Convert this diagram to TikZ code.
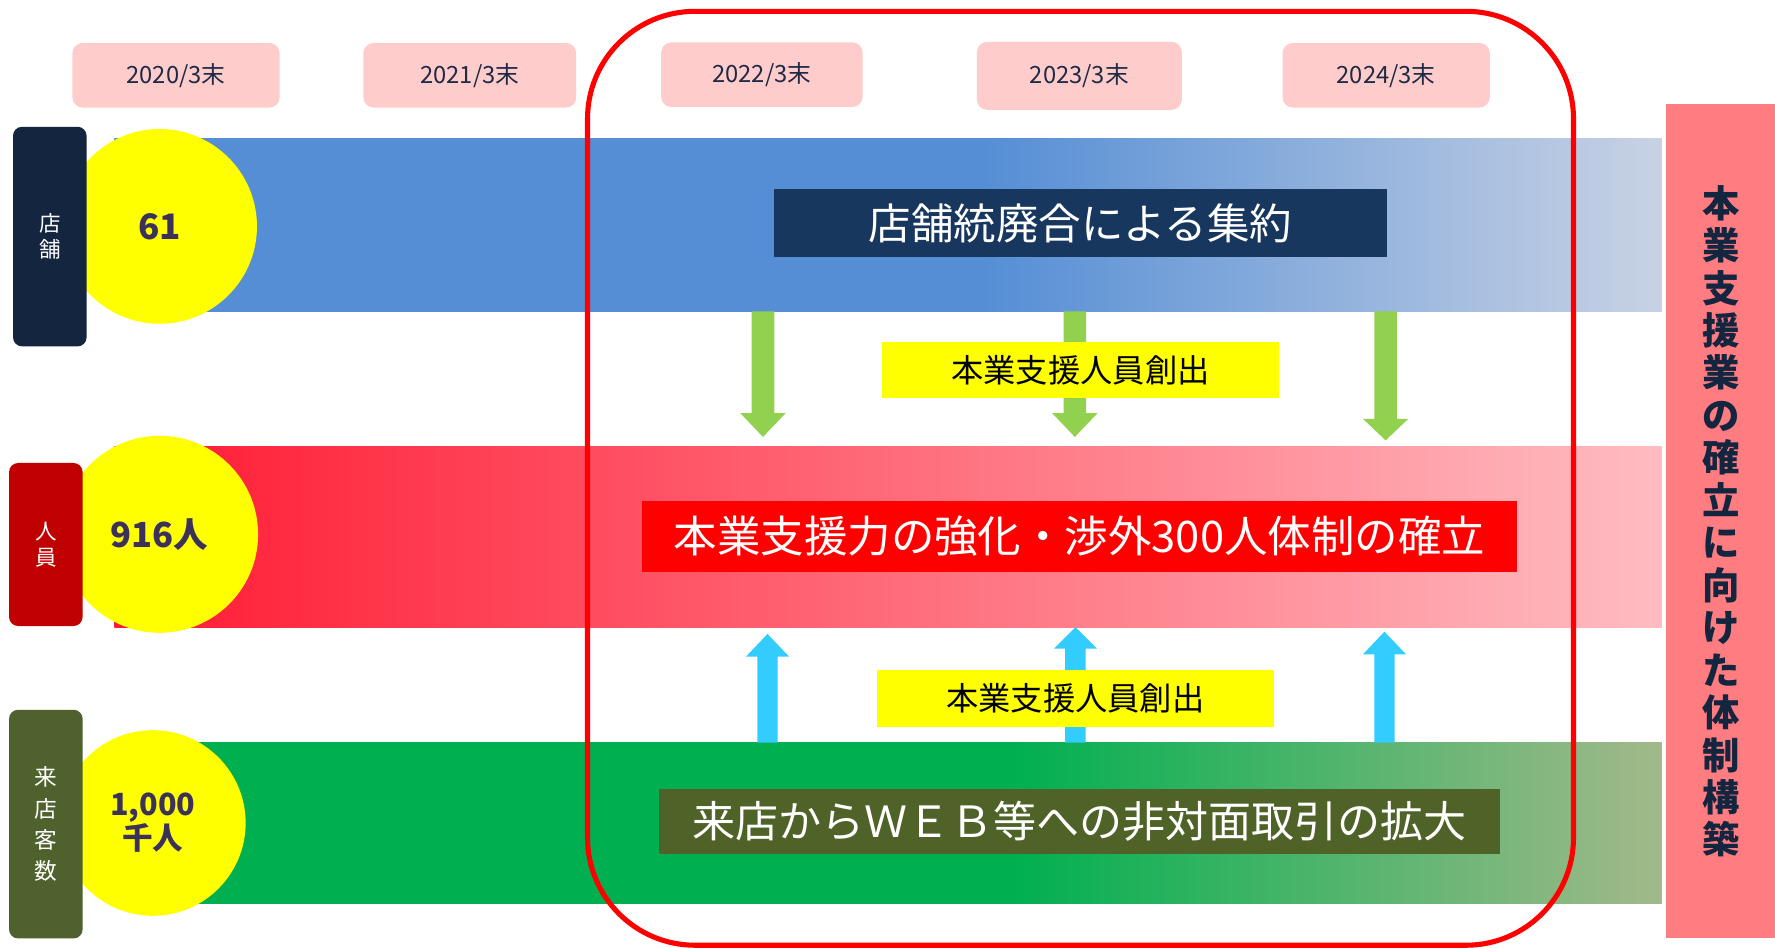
\documentclass[tikz,border=0pt]{standalone}
\usepackage{fontspec}
\setmainfont{Noto Sans CJK JP}
\definecolor{pureyellow}{RGB}{255,255,0}
\definecolor{purered}{RGB}{255,0,0}
\definecolor{yearpink}{HTML}{FFCCCC}
\definecolor{yeartext}{HTML}{1F2A44}
\definecolor{navylbl}{HTML}{14253F}
\definecolor{redlbl}{HTML}{C00000}
\definecolor{olivelbl}{HTML}{4F622E}
\definecolor{bluebar}{HTML}{558ED5}
\definecolor{bluefade}{HTML}{C8D2E4}
\definecolor{redL}{HTML}{FF1A33}
\definecolor{redR}{HTML}{FFBCC1}
\definecolor{greenbar}{HTML}{00B050}
\definecolor{greenfade}{HTML}{A2B98A}
\definecolor{garrow}{HTML}{92D050}
\definecolor{barrow}{HTML}{33CCFF}
\definecolor{titlenavy}{HTML}{17375E}
\definecolor{titleolive}{HTML}{4F6228}
\definecolor{circtext}{HTML}{3C3259}
\definecolor{rightbox}{HTML}{FF7C80}
\pgfdeclarehorizontalshading{bluegrad}{100bp}{color(0bp)=(bluebar); color(53bp)=(bluebar); color(75bp)=(bluefade); color(100bp)=(bluefade)}
\pgfdeclarehorizontalshading{greengrad}{100bp}{color(0bp)=(greenbar); color(54bp)=(greenbar); color(75bp)=(greenfade); color(100bp)=(greenfade)}
\newcommand\fs[2]{\fontsize{#1}{#2}\selectfont}
\newcommand\blockdown[5]{\fill[#5] (#1-10,#2) -- (#1+10,#2) -- (#1+10,#3) -- (#1+20,#3) -- (#1,#4) -- (#1-20,#3) -- (#1-10,#3) -- cycle;}
\newcommand\blockup[5]{\fill[#5] (#1-9,#2) -- (#1+9,#2) -- (#1+9,#3) -- (#1+19,#3) -- (#1,#4) -- (#1-19,#3) -- (#1-9,#3) -- cycle;}
\tikzset{
  yearbox/.style={fill=yearpink, rounded corners=9pt, inner sep=0pt, minimum height=57pt, text=yeartext, font=\fs{21}{24}},
  sidelbl/.style={rounded corners=8pt, inner sep=0pt, minimum width=65pt, text=white, align=center},
  valcirc/.style={circle, fill=pureyellow, inner sep=0pt, text=circtext, align=center, font=\bfseries},
  titlebox/.style={inner sep=0pt, text=white},
  yellowlbl/.style={fill=pureyellow, inner sep=0pt, minimum width=351pt, minimum height=50pt, font=\fs{28.5}{30}}
}
\begin{document}
\begin{tikzpicture}[x=1pt,y=-1pt]
\useasboundingbox[fill=white] (0,0) rectangle (1568,837);
% year boxes
\node[yearbox, minimum width=183pt] (y2020) at (155.5,66.5) {2020/3末};
\node[yearbox, minimum width=188pt] (y2021) at (415,66.5) {2021/3末};
\node[yearbox, minimum width=178pt] (y2022) at (673,66) {2022/3末};
\node[yearbox, minimum width=181pt, minimum height=60pt] (y2023) at (953.5,67) {2023/3末};
\node[yearbox, minimum width=183pt] (y2024) at (1224.5,66.5) {2024/3末};
% bars
\shade[shading=bluegrad] (101,122) rectangle (1468,275);
\shade[left color=redL, right color=redR] (101,394) rectangle (1468,554);
\shade[shading=greengrad] (101,656) rectangle (1468,798);
% arrows
\blockdown{674}{275}{365}{386}{garrow}
\blockdown{949.5}{275}{365}{386}{garrow}
\blockdown{1224}{275}{370}{389}{garrow}
\blockup{678}{656}{580}{560}{barrow}
\blockup{950}{656}{573}{554}{barrow}
\blockup{1223}{656}{578}{558}{barrow}
% titles
\node[titlebox, fill=titlenavy, minimum width=541pt, minimum height=60pt, font=\fs{37.5}{40}] (t1) at (954.5,197) {店舗統廃合による集約};
\node[titlebox, fill=purered, minimum width=773pt, minimum height=62pt, font=\fs{38.4}{42}] (t2) at (953.5,474) {本業支援力の強化・渉外300人体制の確立};
\node[titlebox, fill=titleolive, minimum width=743pt, minimum height=57pt, font=\fs{38}{42}] (t3) at (953.5,725.5) {来店からＷＥＢ等への非対面取引の拡大};
% yellow labels
\node[yellowlbl] (s1) at (954.5,327) {本業支援人員創出};
\node[yellowlbl] (s2) at (950,617) {本業支援人員創出};
% circles
\node[valcirc, minimum size=172pt, font=\bfseries\fs{31}{34}] (c1) at (141,200) {61};
\node[valcirc, minimum size=174pt, font=\bfseries\fs{30.5}{34}] (c2) at (141,472) {916人};
\node[valcirc, minimum size=164pt, font=\bfseries\fs{27}{30}] (c3) at (135,727) {1,000\\千人};
% side labels
\node[sidelbl, fill=navylbl, minimum height=194pt, font=\fs{19}{23}] (l1) at (44,209) {店\\舗};
\node[sidelbl, fill=redlbl, minimum height=144pt, font=\fs{19}{23}] (l2) at (40.5,481) {人\\員};
\node[sidelbl, fill=olivelbl, minimum height=202pt, font=\fs{20}{27.5}] (l3) at (40.5,728) {来\\店\\客\\数};
% red frame
\draw[purered, line width=4.5pt, rounded corners=95pt] (519,10) rectangle (1390,835);
% right box
\node[fill=rightbox, inner sep=0pt, minimum width=96pt, minimum height=737pt, text=navylbl, align=center, font=\bfseries\fs{33}{37.5}] (rb) at (1520,460.5)
  {本\\業\\支\\援\\業\\の\\確\\立\\に\\向\\け\\た\\体\\制\\構\\築};
\end{tikzpicture}
\end{document}
